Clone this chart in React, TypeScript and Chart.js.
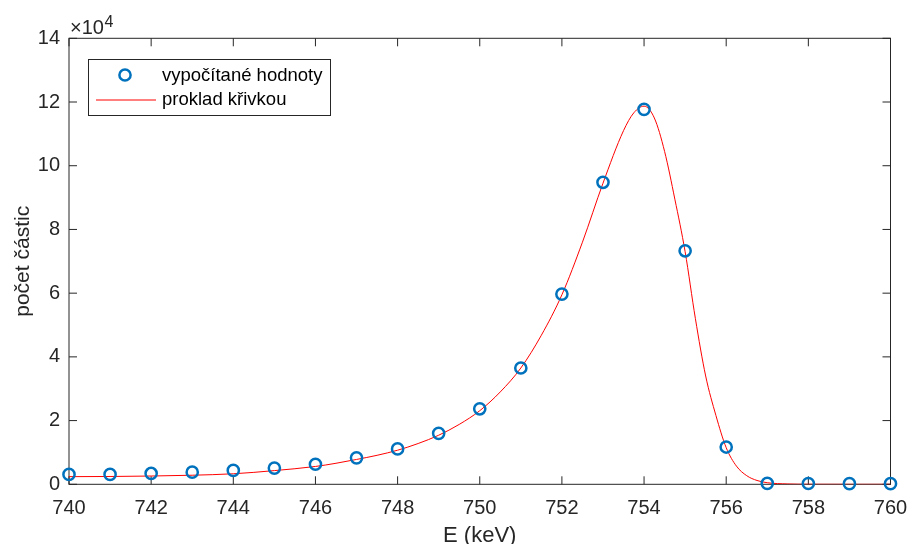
import React, { useEffect, useRef } from 'react';
import { Chart, registerables } from 'chart.js';

Chart.register(...registerables);

const energies = [740, 741, 742, 743, 744, 745, 746, 747, 748, 749, 750, 751, 752, 753, 754, 755, 756, 757, 758, 759, 760];
const counts = [3100, 3100, 3400, 3800, 4350, 5100, 6300, 8300, 11100, 16000, 23700, 36500, 59700, 94800, 117700, 73300, 11700, 300, 250, 200, 200];

const fitEnergies = [740, 741, 742, 743, 744, 745, 746, 746.5, 747, 747.5, 748, 748.5, 749, 749.5, 750, 750.5, 751, 751.5, 752, 752.5, 753, 753.5, 753.75, 754, 754.25, 754.5, 754.75, 755, 755.25, 755.5, 755.75, 756, 756.25, 756.5, 756.75, 757, 757.5, 758, 759, 760];
const fitCounts = [2400, 2450, 2600, 2850, 3300, 4300, 5600, 6600, 7800, 9100, 10700, 12800, 15400, 18800, 23100, 29000, 36500, 46800, 59500, 76000, 94500, 111000, 116600, 118700, 115000, 104500, 89500, 73000, 52000, 34000, 21600, 11500, 5700, 2700, 1200, 500, 100, 20, 0, 0];

const xTicks = [740, 742, 744, 746, 748, 750, 752, 754, 756, 758, 760];
const yTicks = [0, 20000, 40000, 60000, 80000, 100000, 120000, 140000];
const yTickLabels = ['0', '2', '4', '6', '8', '10', '12', '14'];
const legendLabels = ['vypočítané hodnoty', 'proklad křivkou'];
const xTitle = 'E (keV)';
const yTitle = 'počet částic';
const exponentBase = '×10';
const exponentPower = '4';

const FONT = '"Liberation Sans", Arial, Helvetica, sans-serif';
const AX = '#262626';
const BLUE = '#0072BD';
const RED = '#FF0000';

const framePlugin = {
  id: 'matlabFrame',
  beforeDatasetsDraw(chart: any) {
    const { ctx, chartArea: a, scales } = chart;
    const L = a.left, R = a.right, T = a.top, B = a.bottom;
    ctx.save();
    ctx.strokeStyle = AX;
    ctx.lineWidth = 1;
    ctx.strokeRect(L, T, R - L, B - T);
    const tl = 8;
    ctx.beginPath();
    xTicks.forEach((v) => {
      const px = scales.x.getPixelForValue(v);
      ctx.moveTo(px, B);
      ctx.lineTo(px, B - tl);
      ctx.moveTo(px, T);
      ctx.lineTo(px, T + tl);
    });
    yTicks.forEach((v) => {
      const py = scales.y.getPixelForValue(v);
      ctx.moveTo(L, py);
      ctx.lineTo(L + tl, py);
      ctx.moveTo(R, py);
      ctx.lineTo(R - tl, py);
    });
    ctx.stroke();
    ctx.restore();
  },
  afterDraw(chart: any) {
    const { ctx, chartArea: a } = chart;
    ctx.save();
    ctx.fillStyle = AX;
    // exponent label
    ctx.font = `20px ${FONT}`;
    ctx.textAlign = 'left';
    ctx.textBaseline = 'alphabetic';
    ctx.fillText(exponentBase, a.left + 1, 33.5);
    const w = ctx.measureText(exponentBase).width;
    ctx.font = `16px ${FONT}`;
    ctx.fillText(exponentPower, a.left + 1 + w + 0.5, 26.5);
    // axis titles
    ctx.font = `22px ${FONT}`;
    ctx.textAlign = 'center';
    ctx.fillText(xTitle, (a.left + a.right) / 2, 541.5);
    ctx.save();
    ctx.translate(29, (a.top + a.bottom) / 2);
    ctx.rotate(-Math.PI / 2);
    ctx.font = `21px ${FONT}`;
    ctx.fillText(yTitle, 0, 0);
    ctx.restore();
    // legend
    const bx = 88.5, by = 59.5, bw = 242, bh = 56;
    ctx.fillStyle = '#ffffff';
    ctx.fillRect(bx, by, bw, bh);
    ctx.strokeStyle = AX;
    ctx.lineWidth = 1;
    ctx.strokeRect(bx, by, bw, bh);
    ctx.strokeStyle = BLUE;
    ctx.lineWidth = 2.5;
    ctx.beginPath();
    ctx.arc(125, 75, 5.6, 0, Math.PI * 2);
    ctx.stroke();
    ctx.strokeStyle = RED;
    ctx.lineWidth = 1;
    ctx.beginPath();
    ctx.moveTo(96, 100);
    ctx.lineTo(156, 100);
    ctx.stroke();
    ctx.fillStyle = '#000000';
    ctx.font = `18.5px ${FONT}`;
    ctx.textAlign = 'left';
    ctx.textBaseline = 'middle';
    ctx.fillText(legendLabels[0], 162, 76);
    ctx.fillText(legendLabels[1], 162, 100);
    ctx.restore();
  },
};

export default function App() {
  const ref = useRef<HTMLCanvasElement | null>(null);
  useEffect(() => {
    document.body.style.margin = '0';
    const canvas = ref.current;
    if (!canvas) return;
    const chart = new Chart(canvas, {
      type: 'scatter',
      data: {
        datasets: [
          {
            label: legendLabels[0],
            data: energies.map((e, i) => ({ x: e, y: counts[i] })),
            showLine: false,
            pointStyle: 'circle',
            pointRadius: 5.6,
            pointBorderWidth: 2.5,
            pointBorderColor: BLUE,
            pointBackgroundColor: 'rgba(0,0,0,0)',
            clip: false as any,
            order: 1,
          },
          {
            label: legendLabels[1],
            data: fitEnergies.map((e, i) => ({ x: e, y: fitCounts[i] })),
            showLine: true,
            borderColor: RED,
            borderWidth: 1,
            pointRadius: 0,
            cubicInterpolationMode: 'monotone',
            fill: false,
            order: 2,
          },
        ],
      },
      options: {
        animation: false,
        responsive: false,
        layout: { padding: { left: 0, right: 16.5, top: 38.3, bottom: 0 } },
        plugins: { legend: { display: false }, tooltip: { enabled: false } },
        scales: {
          x: {
            type: 'linear',
            min: 740,
            max: 760,
            afterBuildTicks: (s: any) => { s.ticks = xTicks.map((v) => ({ value: v })); },
            afterFit: (s: any) => { s.height = 59.7; s.paddingLeft = 0; s.paddingRight = 0; },
            grid: { display: false, drawTicks: false },
            border: { display: false },
            ticks: {
              autoSkip: false,
              maxRotation: 0,
              padding: 12,
              color: AX,
              font: { family: FONT, size: 20 },
              callback: (v: any) => String(v),
            },
          },
          y: {
            type: 'linear',
            min: 0,
            max: 140000,
            afterBuildTicks: (s: any) => { s.ticks = yTicks.map((v) => ({ value: v })); },
            afterFit: (s: any) => { s.width = 69; s.paddingTop = 0; s.paddingBottom = 0; },
            grid: { display: false, drawTicks: false },
            border: { display: false },
            ticks: {
              autoSkip: false,
              padding: 9,
              color: AX,
              font: { family: FONT, size: 20 },
              callback: (v: any) => yTickLabels[yTicks.indexOf(v)] ?? '',
            },
          },
        },
      },
      plugins: [framePlugin],
    });
    return () => chart.destroy();
  }, []);
  return (
    <div style={{ position: 'absolute', left: 0, top: 0, width: 907, height: 544 }}>
      <canvas ref={ref} width={907} height={544} style={{ width: 907, height: 544 }} />
    </div>
  );
}
